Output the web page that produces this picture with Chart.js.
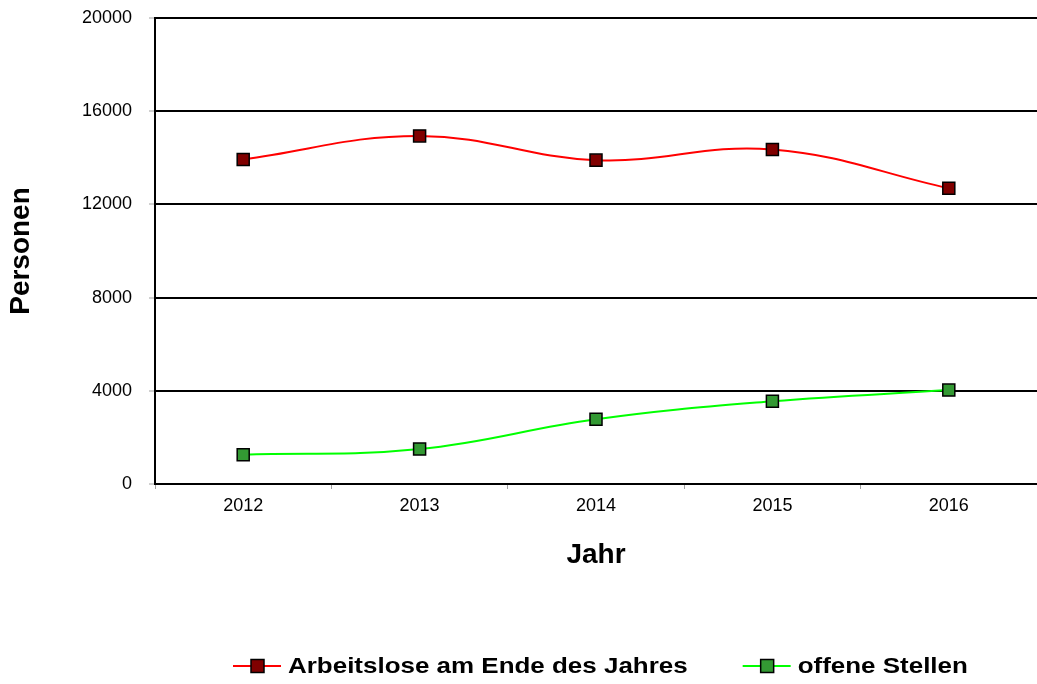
<!DOCTYPE html>
<html lang="de">
<head>
    <meta charset="UTF-8">
    <title>Arbeitslose und offene Stellen</title>
    <script src="https://cdn.jsdelivr.net/npm/chart.js"></script>
    <style>
        html, body {
            margin: 0;
            padding: 0;
            overflow: hidden;
            background-color: white;
        }
        .chart-box {
            position: relative;
            width: 1037px;
            height: 684px;
        }
        canvas {
            display: block;
        }
    </style>
</head>
<body>
    <div class="chart-box">
        <canvas id="jobChart"></canvas>
    </div>

    <script>
        // Data
        const years = ['2012', '2013', '2014', '2015', '2016'];
        const arbeitslose = [13930, 14940, 13900, 14360, 12690];
        const offeneStellen = [1260, 1500, 2780, 3550, 4030];
        const yTicks = [0, 4000, 8000, 12000, 16000, 20000];

        const seriesNames = ['Arbeitslose am Ende des Jahres', 'offene Stellen'];

        Chart.defaults.font.family = "'Liberation Sans', Arial, Helvetica, sans-serif";
        Chart.defaults.color = '#000';

        // Legend drawn like the original: line + square marker, wide bold text
        const lineLegend = {
            id: 'lineLegend',
            afterDraw(chart) {
                const ctx = chart.ctx;
                const y = 666;
                const stretch = 1.18;
                let x = 233;
                ctx.save();
                ctx.font = "bold 22px 'Liberation Sans', Arial, sans-serif";
                ctx.textBaseline = 'middle';
                chart.data.datasets.forEach(ds => {
                    // line
                    ctx.strokeStyle = ds.borderColor;
                    ctx.lineWidth = 2;
                    ctx.beginPath();
                    ctx.moveTo(x, y);
                    ctx.lineTo(x + 48, y);
                    ctx.stroke();
                    // marker
                    ctx.fillStyle = ds.pointBackgroundColor;
                    ctx.fillRect(x + 18, y - 6.5, 13, 13);
                    ctx.strokeStyle = '#000';
                    ctx.lineWidth = 1.5;
                    ctx.strokeRect(x + 18, y - 6.5, 13, 13);
                    // text
                    const tx = x + 55;
                    const w = ctx.measureText(ds.label).width * stretch;
                    ctx.save();
                    ctx.translate(tx, y + 1);
                    ctx.scale(stretch, 1);
                    ctx.fillStyle = '#000';
                    ctx.fillText(ds.label, 0, 0);
                    ctx.restore();
                    x = tx + w + 55;
                });
                ctx.restore();
            }
        };

        const ctx = document.getElementById('jobChart').getContext('2d');
        new Chart(ctx, {
            type: 'line',
            data: {
                labels: years,
                datasets: [
                    {
                        label: seriesNames[0],
                        data: arbeitslose,
                        borderColor: '#ff0000',
                        borderWidth: 2,
                        tension: 0.4,
                        pointStyle: 'rect',
                        pointRadius: 8.5,
                        pointBackgroundColor: '#800000',
                        pointBorderColor: '#000',
                        pointBorderWidth: 1.5
                    },
                    {
                        label: seriesNames[1],
                        data: offeneStellen,
                        borderColor: '#00ff00',
                        borderWidth: 2,
                        tension: 0.4,
                        pointStyle: 'rect',
                        pointRadius: 8.5,
                        pointBackgroundColor: '#339933',
                        pointBorderColor: '#000',
                        pointBorderWidth: 1.5
                    }
                ]
            },
            options: {
                responsive: true,
                maintainAspectRatio: false,
                animation: false,
                layout: {
                    autoPadding: false,
                    padding: { top: 18, right: 0, bottom: 100, left: 0 }
                },
                plugins: {
                    legend: { display: false },
                    tooltip: { enabled: false }
                },
                scales: {
                    x: {
                        offset: true,
                        grid: {
                            offset: true,
                            drawOnChartArea: false,
                            color: '#a0a0a0',
                            tickLength: 5,
                            lineWidth: 1
                        },
                        border: { color: '#000', width: 2 },
                        ticks: {
                            font: { size: 18 },
                            padding: 6
                        },
                        title: {
                            display: true,
                            text: 'Jahr',
                            font: { size: 28, weight: 'bold' },
                            padding: { top: 0, bottom: 12 }
                        },
                        afterFit(scale) {
                            scale.height = 100;
                            scale.paddingLeft = 0;
                            scale.paddingRight = 0;
                        }
                    },
                    y: {
                        min: 0,
                        max: 20000,
                        afterBuildTicks(scale) {
                            scale.ticks = yTicks.map(v => ({ value: v }));
                        },
                        grid: {
                            color: '#000',
                            lineWidth: 2,
                            tickColor: '#a0a0a0',
                            tickLength: 6,
                            tickWidth: 1
                        },
                        border: { color: '#000', width: 2 },
                        ticks: {
                            font: { size: 18 },
                            padding: 17,
                            callback: v => String(v)
                        },
                        title: {
                            display: true,
                            text: 'Personen',
                            font: { size: 28, weight: 'bold' },
                            padding: { top: 4, bottom: 0 }
                        },
                        afterFit(scale) {
                            scale.width = 155;
                            scale.paddingTop = 0;
                            scale.paddingBottom = 0;
                        }
                    }
                }
            },
            plugins: [lineLegend]
        });
    </script>
</body>
</html>
